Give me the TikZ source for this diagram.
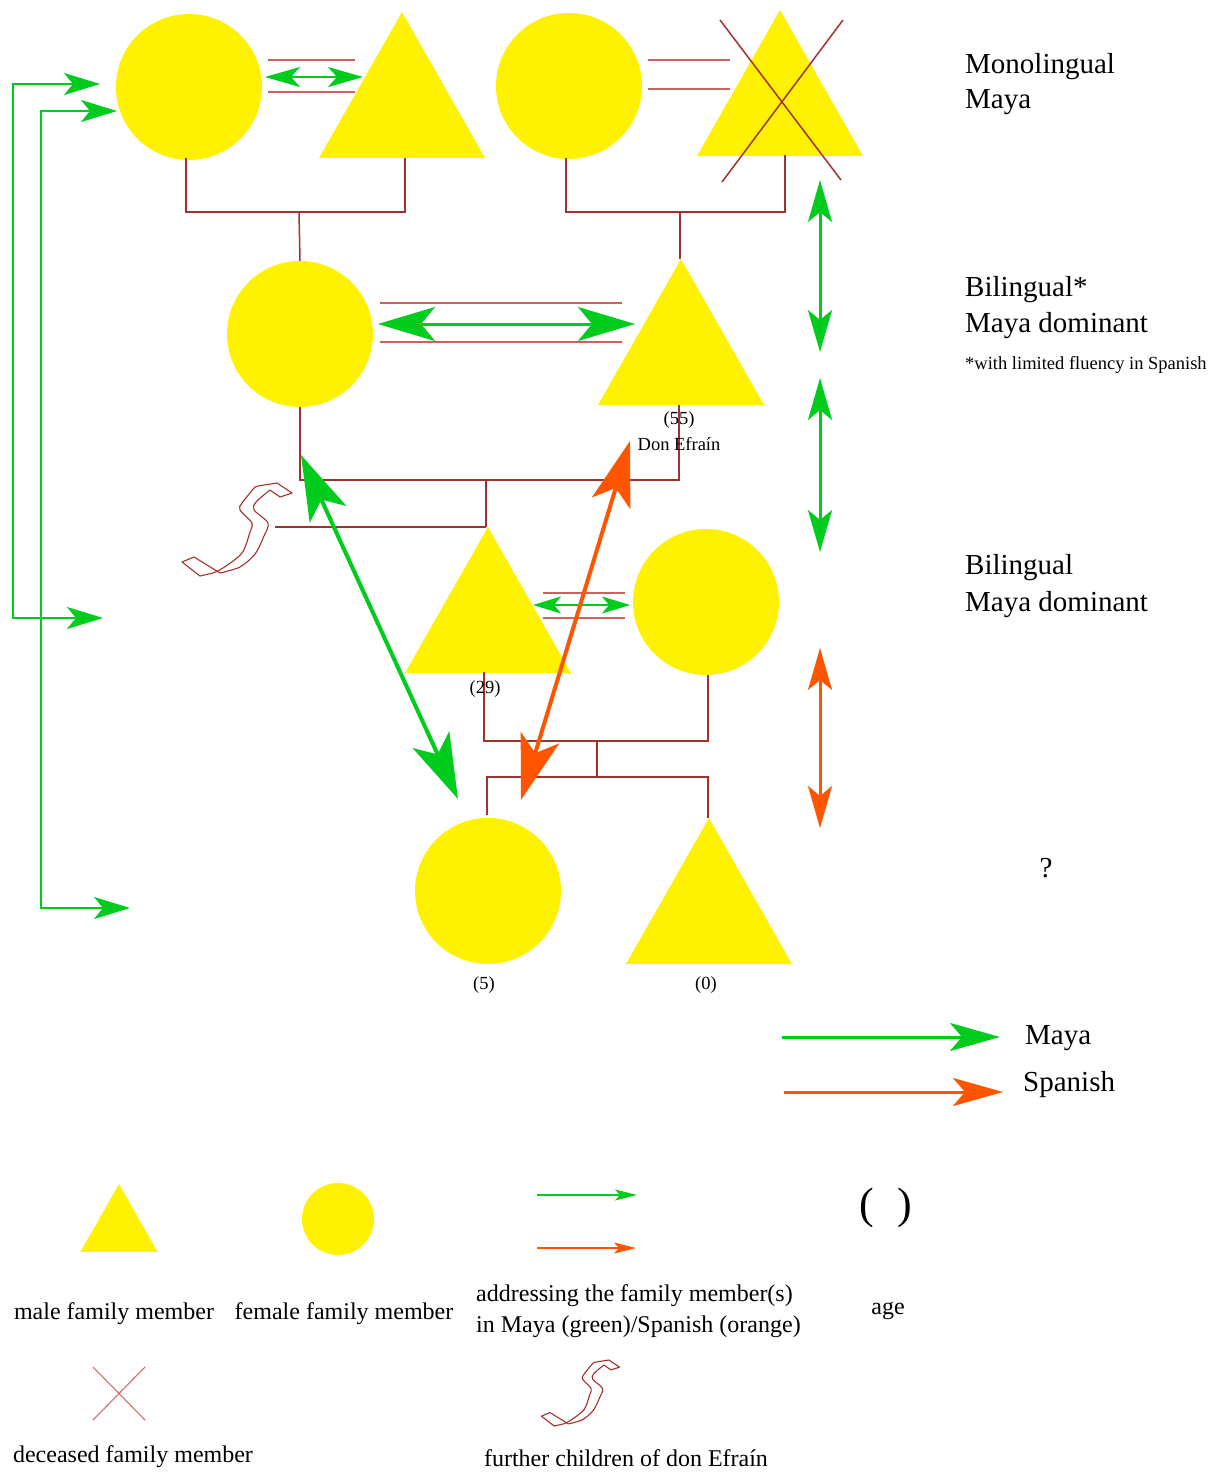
\documentclass[tikz,border=0pt]{standalone}
\usepackage{fontspec}
\setmainfont{Liberation Serif}
\usetikzlibrary{arrows.meta}
\definecolor{famyellow}{RGB}{255,242,0}
\definecolor{mgreen}{RGB}{0,204,30}
\definecolor{sorange}{RGB}{255,85,0}
\definecolor{kin}{RGB}{160,50,45}
\definecolor{kinlight}{RGB}{215,110,105}
\tikzset{
  fem/.style={circle,fill=famyellow,minimum size=146pt,inner sep=0pt},
  malepic/.pic={\fill[famyellow] (0,0) -- (-83,146) -- (83,146) -- cycle;},
  kinline/.style={draw=kin,line width=1.5pt},
  marline/.style={draw=kinlight!80!kin,line width=1.8pt},
  bigtip/.style={{Stealth[length=65pt,width=40pt,inset=16pt]}-{Stealth[length=65pt,width=40pt,inset=16pt]}},
  vtip/.style={{Stealth[length=42pt,width=24pt,inset=10pt]}-{Stealth[length=42pt,width=24pt,inset=10pt]}},
  lefttip/.style={{Stealth[length=36pt,width=22pt,inset=9pt]}-{Stealth[length=36pt,width=22pt,inset=9pt]}},
  labtxt/.style={font=\fontsize{29}{35}\selectfont,anchor=west,align=left,inner sep=0pt},
  smalltxt/.style={font=\fontsize{18.5}{20}\selectfont,inner sep=0pt},
  legtxt/.style={font=\fontsize{24}{31}\selectfont,inner sep=0pt},
  squiggle/.pic={
    \draw[kin,line width=1.1pt] plot[smooth] coordinates {(75,4) (62,20) (60,27) (72,40) (70,49) (62,70) (43,85) (33,90)};
    \draw[kin,line width=1.1pt] plot[smooth] coordinates {(90,7) (76,19) (74,27) (88,40) (84,53) (75,71) (60,84) (40,90)};
    \draw[kin,line width=1.1pt,line join=round] (75,4) -- (78,3) -- (97,0) -- (112,10) -- (100,14) -- (90,7);
    \draw[kin,line width=1.1pt,line join=round] (33,90) -- (20,93) -- (2,79) -- (14,74) -- (40,90);
  }
}
\begin{document}
\begin{tikzpicture}[x=1pt,y=-1pt]
\useasboundingbox[fill=white] (0,0) rectangle (1231,1472);

% ---------- people ----------
\node[fem] (A) at (189,87) {};
\pic (B) at (402,12) {malepic};
\node[fem] (C) at (569,86) {};
\pic (D) at (780,10) {malepic};
\node[fem] (E) at (300,334) {};
\pic (F) at (681,259) {malepic};
\pic (G) at (488,527) {malepic};
\node[fem] (H) at (706,602) {};
\node[fem] (I) at (488,891) {};
\pic (J) at (709,818) {malepic};

% ---------- named points ----------
\coordinate (Bb) at (405,158);
\coordinate (Db) at (785,155);
\coordinate (Fb) at (679,405);
\coordinate (Ga) at (486,527);
\coordinate (Gb) at (484,672);
\coordinate (Ja) at (708,818);
\coordinate (ABbar) at (299,212);
\coordinate (CDbar) at (680,212);
\coordinate (EFbar) at (486,480);
\coordinate (GHbar) at (597,741);
\coordinate (IJbar) at (597,777);
\coordinate (sq) at (275,527);

% ---------- descent lines ----------
\draw[kinline] (186,158) |- (ABbar) -| (Bb);
\draw[kinline] (ABbar) -- (E.north);
\draw[kinline] (566,158) |- (CDbar) -| (Db);
\draw[kinline] (CDbar) -- (680,259);
\draw[kinline] (300,407) |- (EFbar) -| (Fb);
\draw[kinline] (EFbar) -- (Ga);
\draw[kinline] (sq) -- (Ga);
\draw[kinline] (Gb) |- (GHbar) -| (708,675);
\draw[kinline] (GHbar) -- (IJbar);
\draw[kinline] (487,815) |- (IJbar) -| (Ja);

% ---------- marriage lines ----------
\draw[marline] (268,60) -- (355,60);
\draw[marline] (268,92) -- (355,92);
\draw[marline] (648,60) -- (730,60);
\draw[marline] (648,89) -- (730,89);
\draw[marline] (380,303) -- (622,303);
\draw[marline] (380,342) -- (622,342);
\draw[marline] (543,593) -- (625,593);
\draw[marline] (543,618) -- (625,618);

% ---------- deceased cross ----------
\draw[kin,line width=1.5pt] (720,20) -- (841,180);
\draw[kin,line width=1.5pt] (843,20) -- (722,182);

% ---------- further children ----------
\pic at (180,483) {squiggle};

% ---------- address arrows between spouses ----------
\draw[mgreen,line width=2.5pt,{Stealth[length=35pt,width=20pt,inset=9pt]}-{Stealth[length=35pt,width=20pt,inset=9pt]}] (265,77) -- (363,77);
\draw[mgreen,line width=3pt,{Stealth[length=57pt,width=34pt,inset=14pt]}-{Stealth[length=57pt,width=34pt,inset=14pt]}] (378,324) -- (635,324);
\draw[mgreen,line width=2.5pt,{Stealth[length=28pt,width=17pt,inset=7pt]}-{Stealth[length=28pt,width=17pt,inset=7pt]}] (533,605) -- (630,605);

% ---------- big diagonal arrows ----------
\coordinate (gtop) at (301,455);
\coordinate (gbot) at (458,799);
\coordinate (otop) at (630,441);
\coordinate (obot) at (521,800);
\draw[mgreen,line width=4pt,bigtip] (gtop) -- (gbot);
\draw[sorange,line width=4pt,bigtip] (otop) -- (obot);

% ---------- left arrows ----------
\coordinate (l1a) at (100,84);
\coordinate (l1b) at (103,618);
\coordinate (l2a) at (117,111);
\coordinate (l2b) at (130,908);
\draw[mgreen,line width=2.5pt,lefttip] (l1a) -- (13,84) -- (13,618) -- (l1b);
\draw[mgreen,line width=2.5pt,lefttip] (l2a) -- (41,111) -- (41,908) -- (l2b);

% ---------- right vertical arrows ----------
\coordinate (v1a) at (820,180);
\coordinate (v1b) at (820,352);
\coordinate (v2a) at (820,378);
\coordinate (v2b) at (820,552);
\coordinate (v3a) at (820,648);
\coordinate (v3b) at (820,828);
\draw[mgreen,line width=3pt,vtip] (v1a) -- (v1b);
\draw[mgreen,line width=3pt,vtip] (v2a) -- (v2b);
\draw[sorange,line width=3pt,vtip] (v3a) -- (v3b);

% ---------- labels ----------
\node[smalltxt] (age55) at (679,420) {(55)};
\node[smalltxt] (don) at (679,444) {Don Efraín};
\node[smalltxt] (age29) at (485,689) {(29)};
\node[smalltxt] (age5) at (484,985) {(5)};
\node[smalltxt] (age0) at (706,985) {(0)};

\node[labtxt] (mono) at (965,84) {Monolingual\\Maya};
\node[labtxt,font=\fontsize{29}{36}\selectfont] (bil1) at (965,308) {Bilingual*\\Maya dominant};
\node[smalltxt,anchor=west] (fluency) at (965,365) {*with limited fluency in Spanish};
\node[labtxt,font=\fontsize{29}{37}\selectfont] (bil2) at (965,586) {Bilingual\\Maya dominant};
\node[labtxt,anchor=center] (qm) at (1046,868) {?};

% ---------- language key ----------
\coordinate (k1a) at (782,1037);
\coordinate (k1b) at (1000,1037);
\coordinate (k2a) at (784,1092);
\coordinate (k2b) at (1003,1092);
\draw[mgreen,line width=3pt,-{Stealth[length=50pt,width=28pt,inset=12pt]}] (k1a) -- (k1b);
\draw[sorange,line width=3pt,-{Stealth[length=50pt,width=28pt,inset=12pt]}] (k2a) -- (k2b);
\node[labtxt] (kmaya) at (1025,1038) {Maya};
\node[labtxt] (kspan) at (1023,1085) {Spanish};

% ---------- legend ----------
\pic[scale=0.465] (lm) at (119,1184) {malepic};
\node[circle,fill=famyellow,minimum size=72pt,inner sep=0pt] (lf) at (338,1219) {};
\coordinate (s1a) at (537,1195);
\coordinate (s1b) at (637,1195);
\coordinate (s2a) at (537,1248);
\coordinate (s2b) at (636,1248);
\draw[mgreen,line width=1.5pt,-{Stealth[length=22pt,width=11pt,inset=5pt]}] (s1a) -- (s1b);
\draw[sorange,line width=1.5pt,-{Stealth[length=22pt,width=11pt,inset=5pt]}] (s2a) -- (s2b);
\node[inner sep=0pt,font=\fontsize{44}{44}\selectfont] (paren) at (886,1208) {(\hspace{24pt})};

\node[legtxt] (tm) at (114,1314) {male family member};
\node[legtxt] (tf) at (344,1314) {female family member};
\node[legtxt,anchor=west,align=left] (taddr) at (476,1311) {addressing the family member(s)\\in Maya (green)/Spanish (orange)};
\node[legtxt] (tage) at (888,1311) {age};

\draw[kinlight,line width=1.1pt] (93,1367) -- (145,1420);
\draw[kinlight,line width=1.1pt] (145,1367) -- (93,1420);
\node[legtxt] (tdec) at (133,1457) {deceased family member};

\pic[scale=0.71] at (540,1360) {squiggle};
\node[legtxt] (tfur) at (626,1458) {further children of don Efraín};
\end{tikzpicture}
\end{document}
